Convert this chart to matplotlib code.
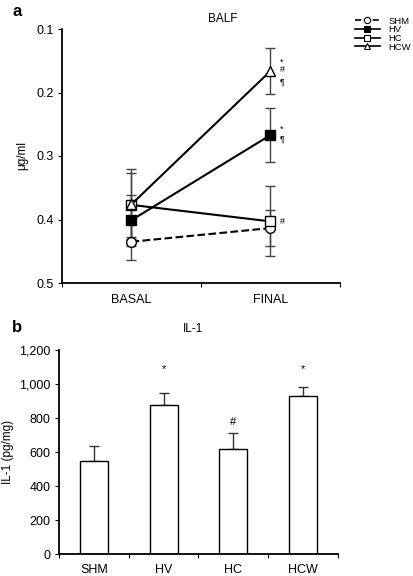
import matplotlib
matplotlib.use('Agg')
import matplotlib.pyplot as plt
from matplotlib.lines import Line2D
from matplotlib.ticker import FuncFormatter

plt.rcParams['font.family'] = ['Liberation Sans', 'DejaVu Sans']

# panel a: BALF
times = ['BASAL', 'FINAL']
groups = ['SHM', 'HV', 'HC', 'HCW']
balf_mean = {'SHM': [0.435, 0.4135],
             'HV': [0.401, 0.267],
             'HC': [0.377, 0.403],
             'HCW': [0.376, 0.166]}
balf_err = {'SHM': [0.029, 0.028],
            'HV': [0.040, 0.042],
            'HC': [0.050, 0.055],
            'HCW': [0.055, 0.036]}
# significance marks at FINAL: (group, text, y value)
balf_marks = [('HCW', '*', 0.152), ('HCW', '#', 0.164), ('HCW', '¶', 0.183),
              ('HV', '*', 0.258), ('HV', '¶', 0.273), ('HC', '#', 0.403)]

# panel b: IL-1
il1_mean = [550, 878, 619, 927]
il1_err = [87, 70, 92, 55]
il1_marks = ['', '*', '#', '*']
il1_mark_y = [None, 1090, 780, 1090]

styles = {'SHM': dict(marker='o', ls='--', mfc='white'),
          'HV': dict(marker='s', ls='-', mfc='black'),
          'HC': dict(marker='s', ls='-', mfc='white'),
          'HCW': dict(marker='^', ls='-', mfc='white')}

fig = plt.figure(figsize=(4.14, 5.76), dpi=100, facecolor='white')

# ---- panel a ----
ax = fig.add_axes([62/414, 1-283/576, 278/414, 254/576])
xpos = [0.5, 1.5]
for g in groups:
    ax.errorbar(xpos, balf_mean[g], yerr=balf_err[g], fmt='none',
                ecolor='#444444', elinewidth=1.0, capsize=3.5, capthick=1.0, zorder=1)
for g in groups:
    st = styles[g]
    ax.plot(xpos, balf_mean[g], color='black', lw=1.5, ls=st['ls'],
            marker=st['marker'], mfc=st['mfc'], mec='black', mew=1.0,
            ms=7, zorder=3)
for g, txt, yv in balf_marks:
    ax.text(1.565, yv, txt, fontsize=6.5, ha='left', va='center')

ax.set_xlim(0, 2)
ax.set_ylim(0.5, 0.1)
ax.set_yticks([0.1, 0.2, 0.3, 0.4, 0.5])
ax.set_yticklabels(['0.1', '0.2', '0.3', '0.4', '0.5'])
ax.set_xticks([0, 1, 2])
ax.set_xticklabels([])
ax.set_xticks(xpos, minor=True)
ax.set_xticklabels(times, minor=True)
ax.tick_params(axis='x', which='minor', length=0, pad=8, labelsize=9)
ax.tick_params(axis='x', which='major', length=3, direction='out')
ax.tick_params(axis='y', length=3, direction='out', labelsize=9, pad=3)
for s in ['top', 'right']:
    ax.spines[s].set_visible(False)
for s in ['left', 'bottom']:
    ax.spines[s].set_linewidth(1.3)
ax.set_ylabel('μg/ml', fontsize=8.5, labelpad=6)

handles = []
for g in groups:
    st = styles[g]
    handles.append(Line2D([], [], color='black', lw=1.2, ls=st['ls'],
                          marker=st['marker'], mfc=st['mfc'], mec='black',
                          mew=0.8, ms=4.5))
fig.legend(handles, groups, loc='upper left', bbox_to_anchor=(350/414, 1-12/576),
           frameon=False, fontsize=6.8, handlelength=2.7, handletextpad=0.9,
           labelspacing=-0.04, borderpad=0)

fig.text(223/414, 1-19/576, 'BALF', fontsize=8.5, ha='center', va='center')
fig.text(17/414, 1-11/576, 'a', fontsize=12, fontweight='bold', ha='center', va='center')

# ---- panel b ----
bx = fig.add_axes([59/414, 1-554.3/576, 279/414, 204.3/576])
bpos = [0.5, 1.5, 2.5, 3.5]
bx.bar(bpos, il1_mean, width=0.4, color='white', edgecolor='black', lw=1.0, zorder=2)
bx.errorbar(bpos, il1_mean, yerr=[[0]*4, il1_err], fmt='none', ecolor='#333333',
            elinewidth=1.0, capsize=3.5, capthick=1.0, zorder=1)
for x, txt, yv in zip(bpos, il1_marks, il1_mark_y):
    if yv is not None:
        bx.text(x, yv, txt, fontsize=8, ha='center', va='center')
bx.set_xlim(0, 4)
bx.set_ylim(0, 1200)
bx.set_yticks(range(0, 1201, 200))
bx.yaxis.set_major_formatter(FuncFormatter(lambda v, p: f'{int(v):,}'))
bx.set_xticks([0, 1, 2, 3, 4])
bx.set_xticklabels([])
bx.set_xticks(bpos, minor=True)
bx.set_xticklabels(groups, minor=True)
bx.tick_params(axis='x', which='minor', length=0, pad=7, labelsize=9)
bx.tick_params(axis='x', which='major', length=3, direction='out')
bx.tick_params(axis='y', length=3, direction='out', labelsize=9, pad=3)
for s in ['top', 'right']:
    bx.spines[s].set_visible(False)
for s in ['left', 'bottom']:
    bx.spines[s].set_linewidth(1.3)
bx.set_ylabel('IL-1 (pg/mg)', fontsize=8.5, labelpad=4)

fig.text(193/414, 1-329/576, 'IL-1', fontsize=8.5, ha='center', va='center')
fig.text(17/414, 1-327/576, 'b', fontsize=12, fontweight='bold', ha='center', va='center')

plt.savefig('out.png', dpi=100, facecolor='white')
